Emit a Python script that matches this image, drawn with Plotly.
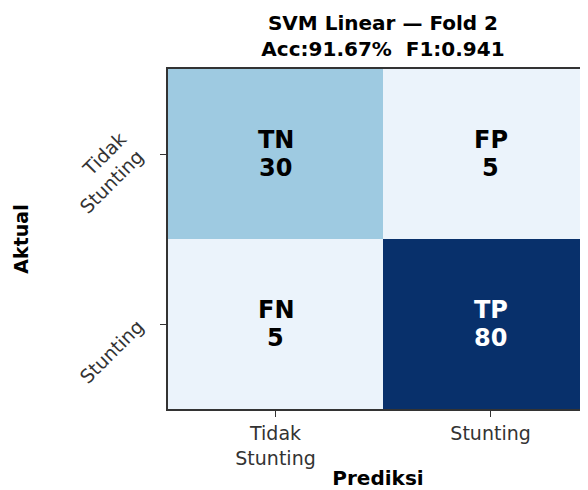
import plotly.graph_objects as go
import plotly.express as px

# confusion matrix values (rows = actual, cols = predicted)
classes = ["Tidak<br>Stunting", "Stunting"]
labels = [["TN", "FP"], ["FN", "TP"]]
counts = [[30, 5], [5, 80]]

blues = px.colors.sequential.Blues
n = len(blues) - 1
scale = [[i / n, c] for i, c in enumerate(blues)]

fig = go.Figure()
fig.add_trace(go.Heatmap(
    z=counts, x=[0, 1], y=[0, 1],
    zmin=0, zmax=80, colorscale=scale, showscale=False,
    hoverinfo="skip",
))

# cell labels: two lines, tighter spacing than plotly's default
for i in range(2):
    for j in range(2):
        col = "white" if counts[i][j] > 40 else "black"
        for txt, shift in [(labels[i][j], 14), (str(counts[i][j]), -14)]:
            fig.add_annotation(
                x=j, y=i, text=f"<b>{txt}</b>", yshift=shift,
                showarrow=False, font=dict(size=24, color=col, family="DejaVu Sans"),
            )

# page body has an 8px margin, so the figure is sized/offset to compensate
fig.update_layout(
    width=580, height=482,
    margin=dict(l=160, r=0, t=61, b=81),
    paper_bgcolor="white", plot_bgcolor="white",
    font=dict(family="DejaVu Sans", color="#222"),
    title=dict(
        text="<b>SVM Linear — Fold 2<br>Acc:91.67%  F1:0.941</b>",
        x=375 / 580, xanchor="center", y=0.954, yanchor="top",
        font=dict(size=20, color="black"),
    ),
)
fig.update_xaxes(
    range=[-0.5, 1.453], tickvals=[0, 1], ticktext=classes,
    ticks="outside", ticklen=6, tickcolor="#333", tickfont=dict(size=19, color="#333"),
    showline=True, linecolor="#333", linewidth=2, mirror=True,
    showgrid=False, zeroline=False,
    title=dict(text="<b>Prediksi</b>", font=dict(size=20, color="black"), standoff=4),
)
fig.update_yaxes(
    range=[1.5, -0.5], tickvals=[0, 1], ticktext=classes, tickangle=-45,
    ticks="outside", ticklen=6, tickcolor="#333", tickfont=dict(size=19, color="#333"),
    ticklabelstandoff=18,
    showline=True, linecolor="#333", linewidth=2,
    showgrid=False, zeroline=False,
    title=dict(text="<b>Aktual</b>", font=dict(size=19, color="black"), standoff=24),
)

fig.write_html("out.html")
